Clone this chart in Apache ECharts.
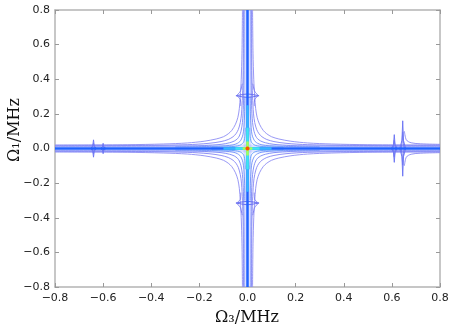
<!DOCTYPE html>
<html>
<head>
<meta charset="utf-8">
<script src="https://cdn.jsdelivr.net/npm/echarts@6/dist/echarts.min.js"></script>
<style>
  html, body { margin: 0; padding: 0; background: #fff; }
  #chart { width: 457px; height: 331px; }
</style>
</head>
<body>
<div id="chart"></div>
<script>
// axis ticks
const xTicks = [-0.8, -0.6, -0.4, -0.2, 0.0, 0.2, 0.4, 0.6, 0.8]
const yTicks = [-0.8, -0.6, -0.4, -0.2, 0.0, 0.2, 0.4, 0.6, 0.8]

// contour levels, upper-right quadrant (x > 0, y > 0),
// outermost first. The plot is mirrored in both axes.
const levelA = [[0.8, 0.02], [0.5, 0.022], [0.35, 0.026], [0.25, 0.032], [0.18, 0.042], [0.13, 0.055], [0.1, 0.068], [0.08, 0.085], [0.065, 0.105], [0.05, 0.14], [0.04, 0.18], [0.034, 0.23], [0.03, 0.3], [0.026, 0.4], [0.023, 0.55], [0.021, 0.8]]
const levelB = [[0.8, 0.016], [0.4, 0.018], [0.25, 0.022], [0.16, 0.03], [0.11, 0.04], [0.08, 0.052], [0.06, 0.068], [0.048, 0.085], [0.038, 0.11], [0.03, 0.15], [0.025, 0.2], [0.021, 0.3], [0.018, 0.45], [0.017, 0.8]]
const levelC = [[0.8, 0.013], [0.3, 0.014], [0.18, 0.017], [0.11, 0.024], [0.075, 0.033], [0.055, 0.043], [0.042, 0.056], [0.034, 0.072], [0.027, 0.1], [0.021, 0.15], [0.017, 0.25], [0.015, 0.4], [0.014, 0.8]]
const levelD = [[0.3, 0.01], [0.15, 0.012], [0.09, 0.016], [0.06, 0.021], [0.042, 0.03], [0.032, 0.04], [0.025, 0.055], [0.019, 0.08], [0.015, 0.12], [0.012, 0.2], [0.011, 0.3]]
const levelE = [[0.15, 0.008], [0.08, 0.01], [0.05, 0.013], [0.033, 0.018], [0.024, 0.025], [0.018, 0.033], [0.014, 0.045], [0.011, 0.07], [0.009, 0.12]]

// side resonances on the Ω3 axis (centre, half height)
const spikeX = [-0.64, -0.6, 0.61, 0.645]
const spikeH = [0.05, 0.03, 0.08, 0.16]
// side resonances on the Ω1 axis (centre, half width)
const arrowY = [0.305, -0.315]
const arrowW = [0.048, 0.048]
// wings right of the big spike at 0.645
const wingRight = [[0.652, 0.1], [0.66, 0.05], [0.68, 0.033], [0.72, 0.027], [0.8, 0.024]]

// hot core along the axes (half length of each coloured piece)
const coreH = [0.1, 0.05, 0.02, 0.008]
const coreV = [0.25, 0.12, 0.04, 0.012]

const chart = echarts.init(document.getElementById("chart"))

const frame = { color: "#b4b4b4", width: 1.5 }
const contourColors = ["#8c8cf4", "#8486f4", "#7a88f6", "#6e90f8", "#5f9cfa"]
const coreColors = ["#33b4ff", "#3fe4f0", "#a6ff5a", "#ffe000"]

function fmt(v) {
  if (Math.abs(v) < 1e-9) return "0.0"
  return (v < 0 ? "\u2212" : "") + Math.abs(v).toFixed(1)
}

function line(data, color, width, z, smooth) {
  return {
    type: "line",
    data: data,
    showSymbol: false,
    smooth: smooth === undefined ? 0.3 : smooth,
    silent: true,
    z: z,
    lineStyle: { color: color, width: width }
  }
}

function mirror(pts, sx, sy) {
  return pts.map(p => [p[0] * sx, p[1] * sy])
}

const series = []

// halo of the axis ridges
series.push(line([[-0.8, 0], [0.8, 0]], "rgba(140,155,255,0.3)", 8, 2, false))
series.push(line([[0, -0.8], [0, 0.8]], "rgba(140,155,255,0.3)", 8, 2, false))

// contour curves
const levels = [levelA, levelB, levelC, levelD, levelE]
levels.forEach((lv, i) => {
  ;[[1, 1], [-1, 1], [1, -1], [-1, -1]].forEach(s => {
    series.push(line(mirror(lv, s[0], s[1]), contourColors[i], 0.9, 3))
  })
})

// vertical spikes on the horizontal ridge
spikeX.forEach((x, i) => {
  const h = spikeH[i]
  ;[1, 0.6].forEach(k => {
    const hh = h * k
    const w = 0.012 * k
    series.push(line([[x - w, 0], [x - 0.003, hh * 0.3], [x, hh], [x + 0.003, hh * 0.3], [x + w, 0],
      [x + 0.003, -hh * 0.3], [x, -hh], [x - 0.003, -hh * 0.3], [x - w, 0]], "#6f78f4", 1, 4, false))
  })
})
series.push(line(wingRight, "#8585f2", 0.9, 3))
series.push(line(mirror(wingRight, 1, -1), "#8585f2", 0.9, 3))

// horizontal arrows on the vertical ridge
arrowY.forEach((y, i) => {
  const w = arrowW[i]
  series.push(line([[-w, y], [-0.02, y + 0.007], [0, y + 0.01], [0.02, y + 0.007], [w, y],
    [0.02, y - 0.007], [0, y - 0.01], [-0.02, y - 0.007], [-w, y]], "#6a72f2", 1, 4, false))
  const d = y > 0 ? 1 : -1
  ;[-1, 1].forEach(sx => {
    series.push(line([[sx * 0.022, y + d * 0.07], [sx * 0.03, y + d * 0.025], [sx * w * 0.9, y],
      [sx * 0.03, y - d * 0.02], [sx * 0.028, y - d * 0.06]], "#7c7ef2", 1, 4))
  })
})

// blue core lines
series.push(line([[-0.8, 0], [0.8, 0]], "#1f62ff", 2.5, 5, false))
series.push(line([[0, -0.8], [0, 0.8]], "#1f62ff", 2.5, 5, false))
coreH.forEach((h, i) => {
  series.push(line([[-h, 0], [h, 0]], coreColors[i], 2.5, 6 + i, false))
})
coreV.forEach((v, i) => {
  series.push(line([[0, -v], [0, v]], coreColors[i], 2.5, 6 + i, false))
})
series.push({
  type: "scatter",
  data: [[0, 0]],
  symbolSize: 4,
  silent: true,
  z: 20,
  itemStyle: { color: "#ff2a00" }
})

const option = {
  animation: false,
  backgroundColor: "#fff",
  grid: { left: 55, right: 17, top: 10, bottom: 44 },
  xAxis: [
    {
      type: "value",
      min: -0.8,
      max: 0.8,
      interval: 0.2,
      position: "bottom",
      axisLine: { show: true, onZero: false, lineStyle: frame },
      axisTick: { show: true, inside: true, length: 4, lineStyle: { color: "#999" } },
      axisLabel: {
        formatter: fmt,
        fontFamily: "DejaVu Sans",
        fontSize: 11,
        color: "#222",
        margin: 6,
        showMinLabel: true,
        showMaxLabel: true,
        hideOverlap: false
      },
      splitLine: { show: false }
    },
    {
      type: "value",
      min: -0.8,
      max: 0.8,
      interval: 0.2,
      position: "top",
      axisLine: { show: true, onZero: false, lineStyle: frame },
      axisTick: { show: true, inside: true, length: 4, lineStyle: { color: "#999" } },
      axisLabel: { show: false },
      splitLine: { show: false }
    }
  ],
  yAxis: [
    {
      type: "value",
      min: -0.8,
      max: 0.8,
      interval: 0.2,
      position: "left",
      axisLine: { show: true, onZero: false, lineStyle: frame },
      axisTick: { show: true, inside: true, length: 4, lineStyle: { color: "#999" } },
      axisLabel: {
        formatter: fmt,
        fontFamily: "DejaVu Sans",
        fontSize: 11,
        color: "#222",
        margin: 5,
        showMinLabel: true,
        showMaxLabel: true,
        hideOverlap: false
      },
      splitLine: { show: false }
    },
    {
      type: "value",
      min: -0.8,
      max: 0.8,
      interval: 0.2,
      position: "right",
      axisLine: { show: true, onZero: false, lineStyle: frame },
      axisTick: { show: true, inside: true, length: 4, lineStyle: { color: "#999" } },
      axisLabel: { show: false },
      splitLine: { show: false }
    }
  ],
  graphic: [
    {
      type: "text",
      x: 247,
      y: 310,
      style: { text: "\u03a9\u2083/MHz", fontFamily: "DejaVu Serif", fontSize: 16, fill: "#111", align: "center", verticalAlign: "top" }
    },
    {
      type: "text",
      x: 7,
      y: 130,
      rotation: Math.PI / 2,
      style: { text: "\u03a9\u2081/MHz", fontFamily: "DejaVu Serif", fontSize: 16, fill: "#111", align: "center", verticalAlign: "top" }
    }
  ],
  series: series
}

chart.setOption(option)
</script>
</body>
</html>
